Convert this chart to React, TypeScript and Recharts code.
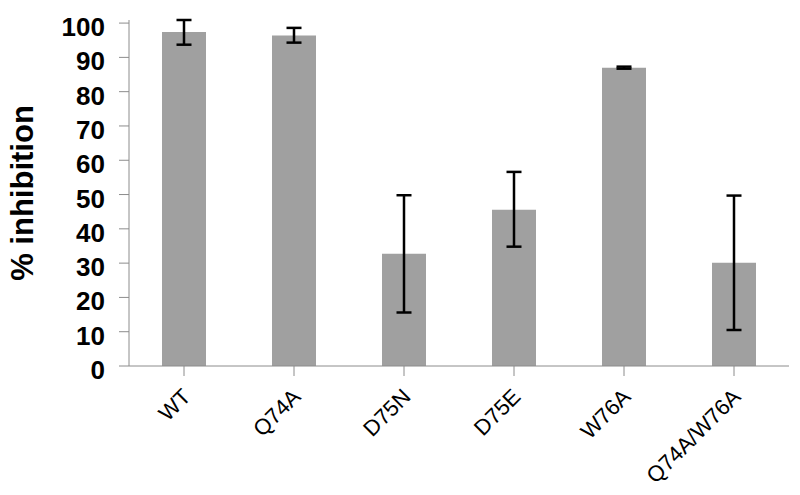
import React from 'react';
import { BarChart, Bar, XAxis, YAxis, ErrorBar } from 'recharts';

const categories = ['WT', 'Q74A', 'D75N', 'D75E', 'W76A', 'Q74A/W76A'];
const inhibition = [97.4, 96.4, 32.7, 45.6, 87.0, 30.1];
const errLow = [3.7, 2.1, 17.1, 10.8, 0.3, 19.6];
const errHigh = [3.5, 2.2, 17.1, 11.0, 0.3, 19.6];
const yTicks = [0, 10, 20, 30, 40, 50, 60, 70, 80, 90, 100];

const data = categories.map((c, i) => ({
  name: c,
  value: inhibition[i],
  err: [errLow[i], errHigh[i]],
}));

const XTick = (props: any) => {
  const { x, y, payload } = props;
  const tx = x + 8;
  const ty = y + 20;
  return (
    <text
      x={tx}
      y={ty}
      transform={`rotate(-45, ${tx}, ${ty})`}
      textAnchor="end"
      fontFamily="Liberation Sans, Arial, sans-serif"
      fontSize={22}
      fill="#000"
    >
      {payload.value}
    </text>
  );
};

const YTick = (props: any) => {
  const { x, y, payload } = props;
  return (
    <text
      x={x}
      y={y + 4}
      textAnchor="end"
      dominantBaseline="central"
      fontFamily="Liberation Sans, Arial, sans-serif"
      fontSize={26}
      fontWeight="bold"
      fill="#000"
    >
      {payload.value}
    </text>
  );
};

export default function App() {
  return (
    <div style={{ position: 'absolute', left: 0, top: 0, width: 800, height: 495, background: '#fff' }}>
      <BarChart
        width={800}
        height={495}
        data={data}
        margin={{ top: 20, right: 11, left: 0, bottom: 0 }}
        barCategoryGap={0}
      >
        <XAxis
          dataKey="name"
          height={129}
          interval={0}
          tick={<XTick />}
          tickLine={{ stroke: '#8c8c8c' }}
          axisLine={{ stroke: '#8c8c8c' }}
          tickSize={10}
        />
        <YAxis
          domain={[0, 100]}
          ticks={yTicks}
          width={129}
          interval={0}
          tickSize={10}
          tickMargin={14}
          tickLine={{ stroke: '#8c8c8c' }}
          axisLine={{ stroke: '#8c8c8c' }}
          tick={<YTick />}
          label={{
            value: '% inhibition',
            angle: -90,
            position: 'insideLeft',
            offset: 0,
            dx: 22,
            style: { fill: '#000', fontSize: 31, fontWeight: 'bold', fontFamily: 'Liberation Sans, Arial, sans-serif', textAnchor: 'middle' },
          }}
        />
        <Bar dataKey="value" fill="#a0a0a0" barSize={44} isAnimationActive={false}>
          <ErrorBar dataKey="err" width={7.5} stroke="#000" strokeWidth={2.5} isAnimationActive={false} />
        </Bar>
      </BarChart>
    </div>
  );
}
